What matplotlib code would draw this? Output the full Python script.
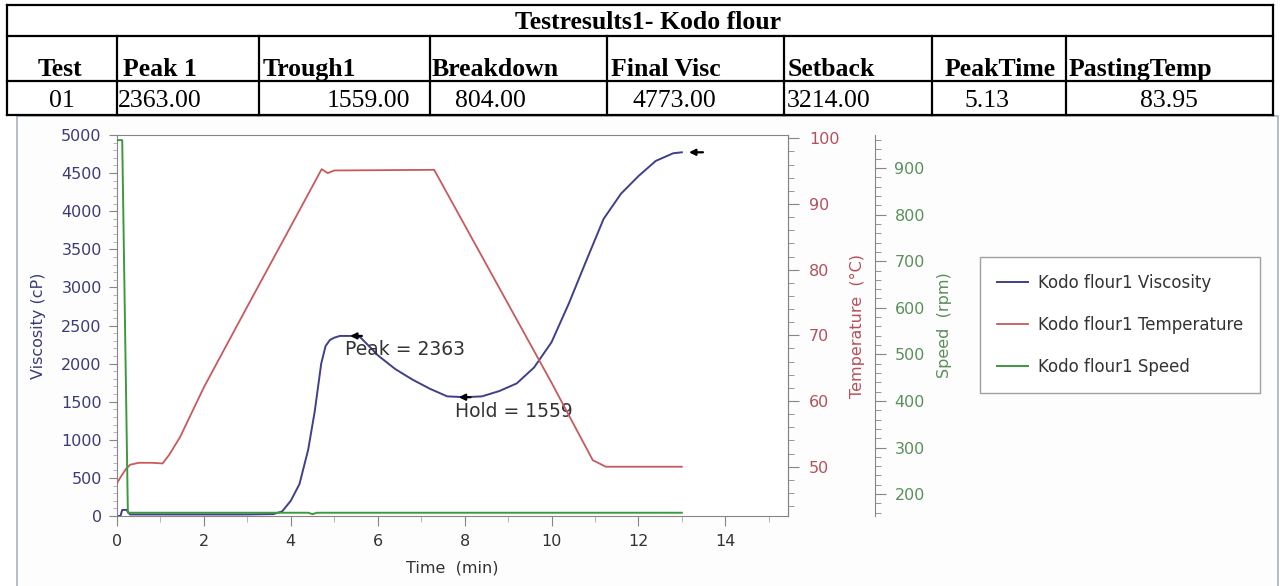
import matplotlib
matplotlib.use("Agg")
import matplotlib.pyplot as plt
from matplotlib.ticker import MultipleLocator
from matplotlib.patches import Rectangle

# ---- table values ----
table_title = "Testresults1- Kodo flour"
headers = ["Test", "Peak 1", "Trough1", "Breakdown", "Final Visc", "Setback", "PeakTime", "PastingTemp"]
results = ["01", "2363.00", "1559.00", "804.00", "4773.00", "3214.00", "5.13", "83.95"]

# ---- curves ----
time_visc = [0, 0.08, 0.12, 0.22, 0.3, 1.0, 2.0, 3.0, 3.6, 3.8, 4.0, 4.2, 4.4, 4.55, 4.7,
             4.8, 4.9, 5.0, 5.13, 5.4, 5.6, 5.8, 6.0, 6.4, 6.8, 7.2, 7.6, 8.0, 8.4, 8.8,
             9.2, 9.6, 10.0, 10.4, 10.8, 11.2, 11.6, 12.0, 12.4, 12.8, 13.0]
viscosity = [0, 0, 80, 80, 20, 20, 20, 20, 25, 60, 200, 420, 870, 1370, 2000,
             2230, 2310, 2340, 2363, 2363, 2345, 2230, 2110, 1930, 1790, 1670, 1570, 1559, 1570, 1640,
             1740, 1950, 2280, 2790, 3350, 3900, 4230, 4460, 4660, 4760, 4773]

time_temp = [0, 0.1, 0.2, 0.3, 0.5, 0.8, 1.05, 1.2, 1.45, 2.0, 3.0, 4.0, 4.71, 4.85, 5.0,
             7.3, 8.0, 9.0, 10.0, 10.95, 11.25, 13.0]
temperature = [47.5, 48.6, 49.6, 50.3, 50.6, 50.6, 50.5, 51.8, 54.5, 62.1, 74.4, 86.6, 95.3, 94.7, 95.1,
               95.2, 86.8, 74.8, 62.8, 51.0, 50.0, 50.0]

time_speed = [0, 0.12, 0.25, 4.4, 4.5, 4.6, 13.0]
speed = [960, 960, 160, 160, 157, 160, 160]

peak = (5.3, 2363)
hold = (7.8, 1559)
final = (13.1, 4773)

W, H = 1281, 586
fig = plt.figure(figsize=(W / 100, H / 100), dpi=100)

# overlay in pixel coords for the table and the chart panel
bg = fig.add_axes([0, 0, 1, 1])
bg.set_xlim(0, W)
bg.set_ylim(H, 0)
bg.axis('off')

col_x = [7, 117, 259, 430, 607, 784, 932, 1066, 1273]
row_y = [5, 36, 81, 115]
lk = dict(color='black', lw=1.6, solid_capstyle='projecting')
for y in row_y:
    bg.plot([col_x[0], col_x[-1]], [y, y], **lk)
bg.plot([col_x[0], col_x[0]], [row_y[0], row_y[-1]], **lk)
bg.plot([col_x[-1], col_x[-1]], [row_y[0], row_y[-1]], **lk)
for x in col_x[1:-1]:
    bg.plot([x, x], [row_y[1], row_y[-1]], **lk)

serif = 'Liberation Serif'
bg.text(648, 29, table_title, fontsize=18.5, family=serif, weight='bold', ha='center', va='baseline')
head_pos = [(60, 'center'), (123, 'left'), (263, 'left'), (432, 'left'), (611, 'left'),
            (788, 'left'), (1000, 'center'), (1069, 'left')]
for h, (x, a) in zip(headers, head_pos):
    bg.text(x, 76, h, fontsize=18.5, family=serif, weight='bold', ha=a, va='baseline')
res_pos = [(62, 'center'), (118, 'left'), (368, 'center'), (490, 'center'), (674, 'center'),
           (787, 'left'), (987, 'center'), (1169, 'center')]
for r, (x, a) in zip(results, res_pos):
    bg.text(x, 107, r, fontsize=18.5, family=serif, ha=a, va='baseline')

bg.add_patch(Rectangle((17, 116), 1261, 480, facecolor='#fdfdfe', edgecolor='#aab2ba', lw=1.2))

# ---- chart ----
left, right, top, bottom = 117, 788, 135, 516
ax = fig.add_axes([left / W, 1 - bottom / H, (right - left) / W, (bottom - top) / H])
ax.set_facecolor('white')
ax2 = ax.twinx()
ax3 = ax.twinx()

c_visc = '#3f3f8c'
c_temp = '#c65a5e'
c_speed = '#3d993d'
l1, = ax.plot(time_visc, viscosity, color=c_visc, lw=1.4, label='Kodo flour1 Viscosity')
l2, = ax2.plot(time_temp, temperature, color=c_temp, lw=1.3, label='Kodo flour1 Temperature')
l3, = ax3.plot(time_speed, speed, color=c_speed, lw=1.4, label='Kodo flour1 Speed')

ax.set_xlim(0, (right - left) / 43.45)
ax.set_ylim(0, 5000)
ax2.set_ylim(42.5, 100.5)
ax3.set_ylim(153, 971)

ax.xaxis.set_major_locator(MultipleLocator(2))
ax.xaxis.set_minor_locator(MultipleLocator(1))
ax.yaxis.set_major_locator(MultipleLocator(500))
ax.yaxis.set_minor_locator(MultipleLocator(100))
ax2.yaxis.set_major_locator(MultipleLocator(10))
ax2.yaxis.set_minor_locator(MultipleLocator(2))
ax3.yaxis.set_major_locator(MultipleLocator(100))
ax3.yaxis.set_minor_locator(MultipleLocator(20))

spine_c = '#858585'
for a in (ax, ax2, ax3):
    for s in a.spines.values():
        s.set_color(spine_c)
for s in ('top', 'bottom', 'left'):
    ax2.spines[s].set_visible(False)
    ax3.spines[s].set_visible(False)
ax3.spines['right'].set_position(('axes', (875 - left) / (right - left)))

ax.tick_params(axis='x', which='major', length=7, color=spine_c, labelsize=11.5, labelcolor='#333333', pad=6)
ax.tick_params(axis='x', which='minor', length=4, color='#aaaaaa')
ax.tick_params(axis='y', which='major', length=6, color=spine_c, labelsize=11.5, labelcolor='#3b3b78', pad=5)
ax.tick_params(axis='y', which='minor', length=3, color='#aaaaaa')
ax2.tick_params(axis='y', which='major', length=8, color=spine_c, labelsize=11.5, labelcolor='#b5505a', pad=7)
ax2.tick_params(axis='y', which='minor', length=4, color=spine_c)
ax3.tick_params(axis='y', which='major', length=8, color=spine_c, labelsize=11.5, labelcolor='#5a8f5a', pad=6)
ax3.tick_params(axis='y', which='minor', length=4, color=spine_c)

ax.set_xlabel('Time  (min)', fontsize=11.5, color='#333333', va='center')
ax.xaxis.set_label_coords(0.5, (bottom - 568) / (bottom - top))
ax.set_ylabel('Viscosity (cP)', fontsize=11.5, color='#3b3b78', va='center')
ax.yaxis.set_label_coords((38 - left) / (right - left), 0.5)
ax2.set_ylabel('Temperature  (°C)', fontsize=11.5, color='#b5505a', va='center')
ax2.yaxis.set_label_coords((857 - left) / (right - left), 0.5)
ax3.set_ylabel('Speed  (rpm)', fontsize=11.5, color='#5a8f5a', va='center')
ax3.yaxis.set_label_coords((945 - left) / (right - left), 0.5)

# peak / hold / final markers
arr = dict(arrowstyle='-|>', color='black', lw=1.6, mutation_scale=9)
ax.annotate('', xy=peak, xytext=(peak[0] + 0.4, peak[1]), arrowprops=arr)
ax.annotate('', xy=hold, xytext=(hold[0] + 0.4, hold[1]), arrowprops=arr)
ax.annotate('', xy=final, xytext=(final[0] + 0.45, final[1]), arrowprops=arr)
ax.text(5.24, 2185, 'Peak = %d' % peak[1], fontsize=13.5, color='#333333', va='center')
ax.text(7.78, 1370, 'Hold = %d' % hold[1], fontsize=13.5, color='#333333', va='center')

leg = ax.legend(handles=[l1, l2, l3], loc='upper left', bbox_to_anchor=(980 / W, 1 - 257 / H),
                bbox_transform=fig.transFigure, fontsize=12, frameon=True, fancybox=False,
                edgecolor='#a0a0a0', framealpha=1, handlelength=1.9, handletextpad=0.6,
                labelspacing=1.45, borderpad=1.0, borderaxespad=0)
leg.get_frame().set_linewidth(1.0)
for t in leg.get_texts():
    t.set_color('#333333')

fig.savefig('out.png', dpi=100)
